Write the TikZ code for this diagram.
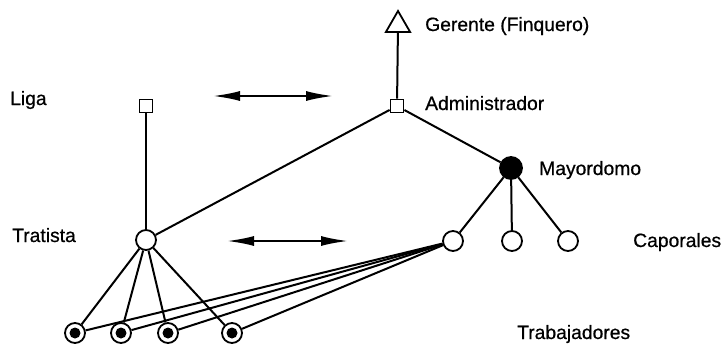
\documentclass[tikz,border=0pt]{standalone}
\usepackage{fontspec}
\setmainfont{Liberation Sans}
\newfontface\lblfont{Liberation Sans}[FakeBold=0.6]
\usetikzlibrary{arrows.meta,shapes.geometric}
\begin{document}
\begin{tikzpicture}
[x=1pt, y=-1pt,
 box/.style={rectangle, draw=black, line width=1.8pt, fill=white, minimum size=13pt, inner sep=0pt},
 person/.style={circle, draw=black, line width=1.8pt, fill=white, minimum size=20pt, inner sep=0pt},
 worker/.style={person, path picture={\fill[black] (path picture bounding box.center) circle (5.5pt);}},
 chief/.style={person, fill=black, minimum size=22pt},
 head/.style={regular polygon, regular polygon sides=3, draw=black, line width=1.8pt, fill=white, minimum size=28pt, inner sep=0pt},
 lbl/.style={anchor=base west, inner sep=0pt, font=\lblfont\fontsize{19.3}{23}\selectfont},
 link/.style={draw=black, line width=2pt},
 both/.style={{Latex[length=27pt,width=10pt]}-{Latex[length=27pt,width=10pt]}, line width=2pt}]
\useasboundingbox (0,0) rectangle (723,343);

%Nodes
\node[head] (gerente) at (398,25) {};
\node[box] (admin) at (397,106) {};
\node[box] (liga) at (146,106) {};
\node[chief] (mayor) at (511,168) {};
\node[person] (tratista) at (146,240) {};
\node[person] (cap1) at (453,241) {};
\node[person] (cap2) at (512,241) {};
\node[person] (cap3) at (568,241) {};
\node[worker] (w1) at (75,333) {};
\node[worker] (w2) at (121,333) {};
\node[worker] (w3) at (168,333) {};
\node[worker] (w4) at (232,333) {};
\coordinate (ligaL) at (213,96);
\coordinate (ligaR) at (333,96);
\coordinate (tratL) at (227,241);
\coordinate (tratR) at (348,241);

%Labels
\node[lbl] (tgerente) at (425,31) {Gerente (Finquero)};
\node[lbl] (tadmin) at (425,110) {Administrador};
\node[lbl] (tliga) at (10,105) {Liga};
\node[lbl] (tmayor) at (539,175) {Mayordomo};
\node[lbl] (ttratista) at (12,242) {Tratista};
\node[lbl] (tcap) at (633,247) {Caporales};
\node[lbl] (ttrab) at (517,339) {Trabajadores};

%Lines
\draw[link] (gerente) -- (admin);
\draw[link] (admin) -- (tratista);
\draw[link] (admin) -- (mayor);
\draw[link] (liga) -- (tratista);
\foreach \c in {cap1,cap2,cap3}
  \draw[link] (mayor) -- (\c);
\foreach \w in {w1,w2,w3,w4} {
  \draw[link] (tratista) -- (\w);
  \draw[link] (cap1) -- (\w);
}
\draw[both] (ligaL) -- (ligaR);
\draw[both] (tratL) -- (tratR);

\end{tikzpicture}
\end{document}
